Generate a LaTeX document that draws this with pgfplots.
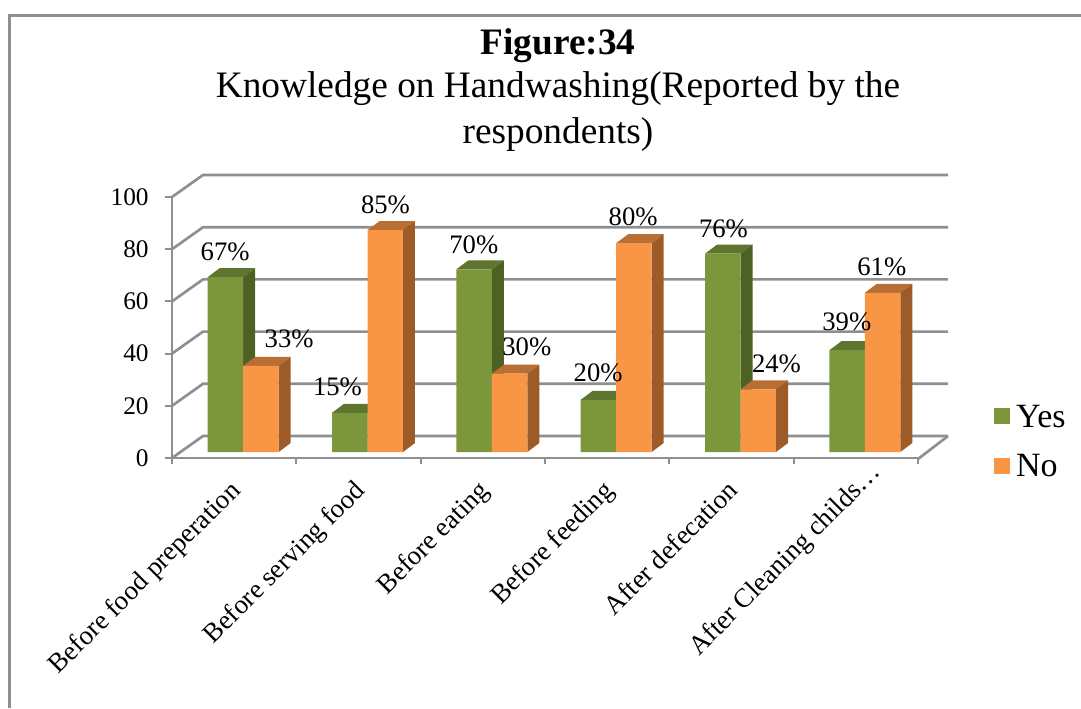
\documentclass[border=0pt]{standalone}
\usepackage{pgfplots}
\usepackage{pgfplotstable}
\usepackage{fontspec}
\setmainfont{Liberation Serif}
\pgfplotsset{compat=1.18}
\definecolor{grn}{HTML}{7B963B}
\definecolor{grnS}{HTML}{4E6125}
\definecolor{grnT}{HTML}{5E7530}
\definecolor{org}{HTML}{F99646}
\definecolor{orgS}{HTML}{9C5B28}
\definecolor{orgT}{HTML}{B96F34}
\definecolor{gr}{HTML}{8F8F8F}
\pgfplotstableread{
x   v  dx  dy
0.5 67 -9  31
1.5 15 -21 32
2.5 70 -9  31
3.5 20 -9  33
4.5 76 -8  31
5.5 39 -9  34
}\yesdata
\pgfplotstableread{
x   v  dx  dy
0.5 33 55 33
1.5 85 27 31
2.5 30 44 33
3.5 80 26 32
4.5 24 45 32
5.5 61 26 32
}\nodata
% top and side faces of one bar: #1 category centre, #2 value, #3 left edge, #4 right edge (offsets), #5 top, #6 side
\newcommand\faces[6]{%
  \pgfmathsetmacro\xl{#1+#3}\pgfmathsetmacro\xr{#1+#4}%
  \pgfmathsetmacro\xld{\xl+0.0965}\pgfmathsetmacro\xrd{\xr+0.0965}%
  \pgfmathsetmacro\yt{#2+2.299}\pgfmathsetmacro\ytd{#2+5.747}%
  \edef\temp{\noexpand\addplot[forget plot,fill=#5,draw=none] coordinates {(\xl,\yt) (\xld,\ytd) (\xrd,\ytd) (\xr,\yt)} -- cycle;
  \noexpand\addplot[forget plot,fill=#6,draw=none] coordinates {(\xr,\yt) (\xrd,\ytd) (\xrd,5.747) (\xr,2.299)} -- cycle;}%
  \temp}
\newcommand\yesfaces[2]{\faces{#1}{#2}{-0.2131}{0.0724}{grnT}{grnS}}
\newcommand\nofaces[2]{\faces{#1}{#2}{0.0724}{0.3579}{orgT}{orgS}}
\begin{document}
\begin{tikzpicture}
\begin{scope}[x=.75pt,y=-.75pt]
  \path[use as bounding box] (0,0) rectangle (1081,708);
  % chart frame
  \draw[gr,line width=2.25pt] (9.5,708) -- (9.5,15.5) -- (1081,15.5);
  % title
  \node[align=center,anchor=north,font=\fontsize{28}{34.2}\selectfont,inner sep=0pt] at (558,28)
    {\textbf{Figure:34}\\[-1.5pt]Knowledge on Handwashing(Reported by the\\respondents)};
  % walls and floor
  \foreach \i in {0,1,2,3,4,5}{
    \pgfmathsetmacro\yy{458-\i*52.2}
    \draw[gr,line width=2pt] (172,\yy) -- (203,\yy-22) -- (948,\yy-22);
  }
  \draw[gr,line width=2pt] (918,459) -- (948,436);
\end{scope}
\begin{axis}[
  at={(129pt,-343.5pt)},anchor=south west,
  scale only axis,width=559.5pt,height=195.75pt,
  xmin=0,xmax=6,ymin=0,ymax=100,clip=false,
  axis lines=left,
  axis line style={-,gr,line width=2pt},
  xtick={0.5,1.5,2.5,3.5,4.5,5.5},
  xticklabels={Before food preperation,Before serving food,Before eating,Before feeding,After defecation,After Cleaning childs…\kern-19.7pt},
  minor xtick={0,1,2,3,4,5,6},
  major x tick style={draw=none},
  minor x tick style={gr,line width=1.5pt},
  minor tick length=4.5pt,
  y tick style={gr,line width=1.5pt},
  major tick length=5pt,
  tick align=outside,
  ytick={0,20,40,60,80,100},
  /pgf/number format/assume math mode=true,
  tick label style={font=\fontsize{19}{22}\selectfont,black},
  x tick label style={rotate=45,anchor=north east,inner sep=1pt,yshift=-3.1pt,xshift=-9.25pt,font=\fontsize{20.2}{23}\selectfont},
  y tick label style={xshift=-9pt},
  legend style={at={(1.102,0.215)},anchor=north west,draw=none,fill=none,inner sep=0pt,
    font=\fontsize{25.5}{30}\selectfont,row sep=15pt},
  legend cell align=left,
]
% Yes
\yesfaces{0.5}{67}\yesfaces{1.5}{15}\yesfaces{2.5}{70}\yesfaces{3.5}{20}\yesfaces{4.5}{76}\yesfaces{5.5}{39}
\addplot[ybar,bar width=26.6pt,bar shift=-13.3pt,fill=grn,draw=none,xshift=6.75pt,yshift=4.5pt,
  legend image code/.code={\fill[grn] (0,-9.75pt) rectangle (12pt,2.25pt);\path (14.3pt,0);}]
  table[x=x,y=v] {\yesdata};
\addlegendentry{Yes}
% No
\nofaces{0.5}{33}\nofaces{1.5}{85}\nofaces{2.5}{30}\nofaces{3.5}{80}\nofaces{4.5}{24}\nofaces{5.5}{61}
\addplot[ybar,bar width=26.6pt,bar shift=13.3pt,fill=org,draw=none,xshift=6.75pt,yshift=4.5pt,
  legend image code/.code={\fill[org] (0,-9.75pt) rectangle (12pt,2.25pt);\path (14.3pt,0);}]
  table[x=x,y=v] {\nodata};
\addlegendentry{No}
% data labels
\addplot[forget plot,only marks,mark=none,point meta=y,
  visualization depends on={\thisrow{dx} \as \dxx},
  visualization depends on={\thisrow{dy} \as \dyy},
  nodes near coords={\pgfmathprintnumber{\pgfplotspointmeta}\%},
  every node near coord/.append style={anchor=center,inner sep=0pt,black,
    font=\fontsize{20}{23}\selectfont,xshift=\dxx*0.75pt,yshift=\dyy*0.75pt}]
  table[x=x,y=v] {\yesdata};
\addplot[forget plot,only marks,mark=none,point meta=y,
  visualization depends on={\thisrow{dx} \as \dxx},
  visualization depends on={\thisrow{dy} \as \dyy},
  nodes near coords={\pgfmathprintnumber{\pgfplotspointmeta}\%},
  every node near coord/.append style={anchor=center,inner sep=0pt,black,
    font=\fontsize{20}{23}\selectfont,xshift=\dxx*0.75pt,yshift=\dyy*0.75pt}]
  table[x=x,y=v] {\nodata};
\end{axis}
\end{tikzpicture}
\end{document}
